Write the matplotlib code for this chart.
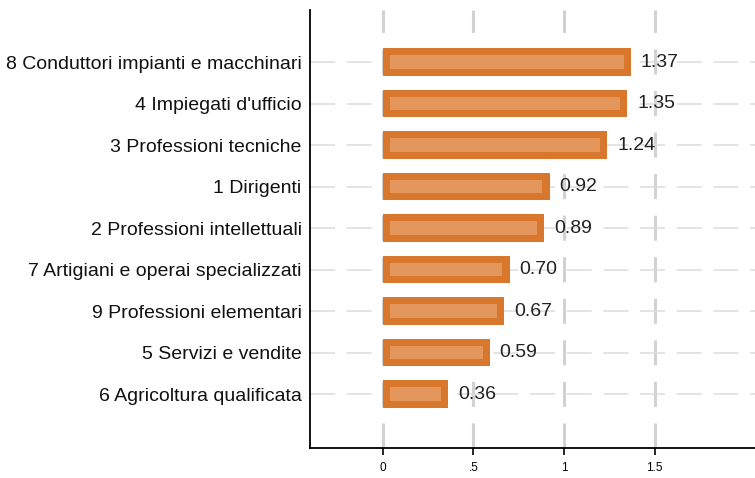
import numpy as np
import matplotlib.pyplot as plt

plt.rcParams['font.family'] = ['Liberation Sans', 'DejaVu Sans']

categories = ['8 Conduttori impianti e macchinari', "4 Impiegati d'ufficio",
              '3 Professioni tecniche', '1 Dirigenti',
              '2 Professioni intellettuali', '7 Artigiani e operai specializzati',
              '9 Professioni elementari', '5 Servizi e vendite',
              '6 Agricoltura qualificata']
values = np.array([1.37, 1.35, 1.24, 0.92, 0.89, 0.70, 0.67, 0.59, 0.36])
xticks = [0, 0.5, 1, 1.5]
xticklabels = ['0', '.5', '1', '1.5']

dark = '#D9782D'
light = '#E4975C'
grid_col = '#D2D2D2'

fig = plt.figure(figsize=(7.55, 4.78), dpi=100)
ax = fig.add_axes([0.4106, 0.0628, 0.5894, 0.916])

ypos = np.arange(len(categories))[::-1]
pad = 0.04

ax.barh(ypos, values, height=0.66, color=dark, zorder=3)
ax.barh(ypos, values - 2 * pad, left=pad, height=0.32, color=light, zorder=4)

for y, v in zip(ypos, values):
    ax.text(v + 0.055, y, f'{v:.2f}', va='center', ha='left', fontsize=14,
            color='#222222', zorder=5)

for xt in xticks:
    ax.axvline(xt, color=grid_col, lw=2.2, ls=(0, (8.2, 5.4)), zorder=1)
for y in ypos:
    ax.axhline(y, color='#DCDCDC', lw=1.1, ls=(0, (16.4, 7.6)), zorder=1)

ax.set_xlim(-0.403, 2.055)
ax.set_ylim(-1.3, 9.25)
ax.set_xticks(xticks)
ax.set_xticklabels(xticklabels, fontsize=8.5)
ax.set_yticks(ypos)
ax.set_yticklabels(categories, fontsize=14, color='#111111')
ax.tick_params(axis='y', length=0, pad=6)
ax.tick_params(axis='x', length=5, width=1.2, direction='out', pad=5)

for s in ['top', 'right']:
    ax.spines[s].set_visible(False)
for s in ['left', 'bottom']:
    ax.spines[s].set_linewidth(1.3)

fig.savefig('out.png', dpi=100)
